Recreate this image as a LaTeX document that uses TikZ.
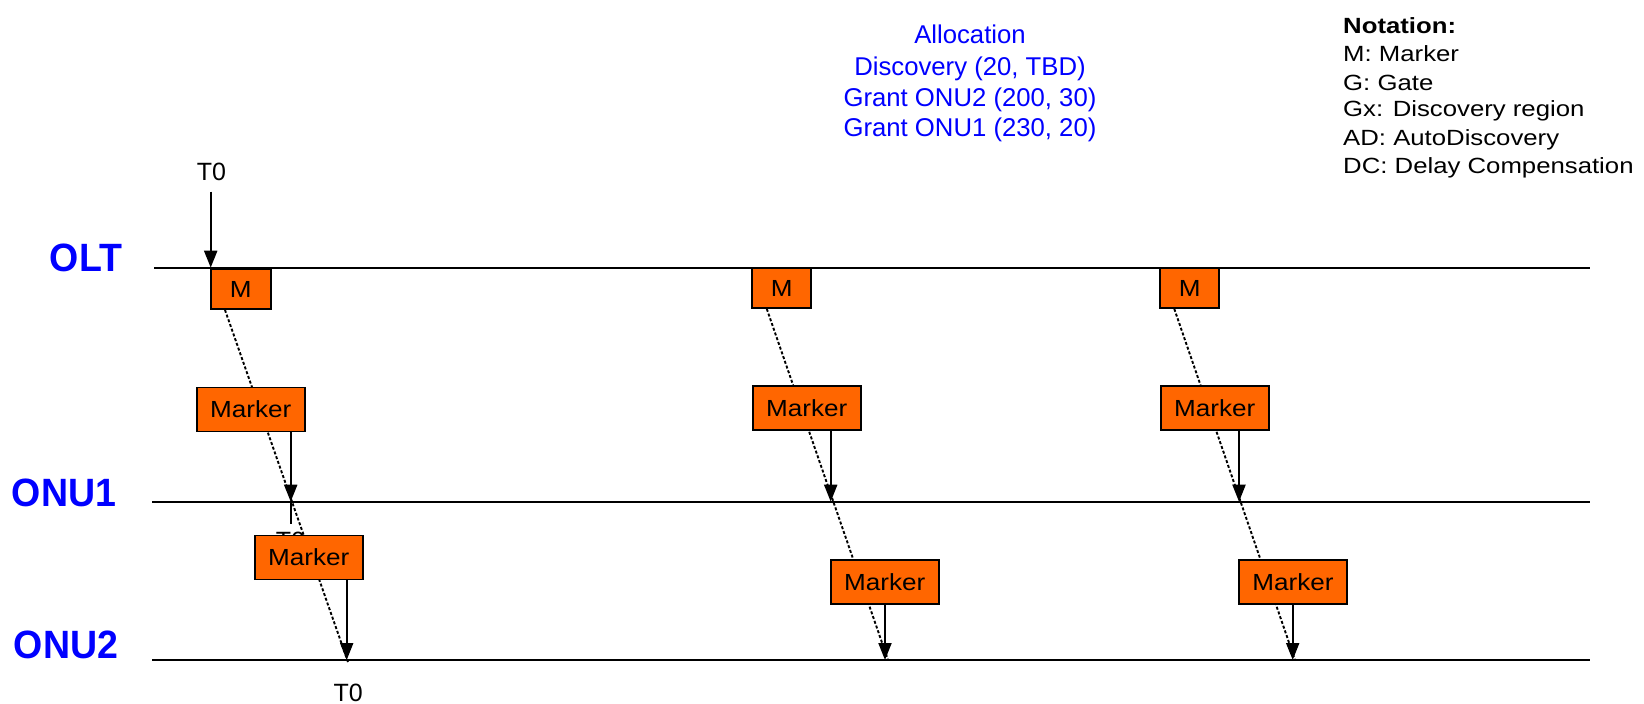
\documentclass[tikz,border=0pt]{standalone}
\usepackage{fontspec}
\setmainfont{Liberation Sans}
\newfontfamily\notefont{Liberation Sans}[FakeStretch=1.17]
\newfontfamily\boxfont{Liberation Sans}[FakeStretch=1.12]
\newfontfamily\lblfont{Liberation Sans}[FakeStretch=0.95]
\usetikzlibrary{arrows.meta}
\pgfdeclarelayer{bg}
\pgfsetlayers{bg,main}
\definecolor{boxorange}{RGB}{255,102,0}
\tikzset{
  tl/.style={line width=2pt},
  arr/.style={line width=2pt,-{Triangle[length=17pt,width=13pt]}},
  dotl/.style={line width=1.9pt,dash pattern=on 3pt off 2pt},
  mbox/.style={draw,line width=1.8pt,fill=boxorange,inner sep=0pt,minimum width=108pt,minimum height=44pt,font=\boxfont\fontsize{23.3}{28}\selectfont},
  sbox/.style={mbox,minimum width=59pt,minimum height=40pt},
  lbl/.style={text=blue,font=\lblfont\bfseries\fontsize{39.5}{44}\selectfont,anchor=base,inner sep=0pt},
  txt/.style={font=\fontsize{25}{30}\selectfont,anchor=base,inner sep=0pt},
  alloc/.style={text=blue,font=\fontsize{25.7}{30}\selectfont,anchor=base,inner sep=0pt},
  note/.style={font=\notefont\fontsize{22}{26}\selectfont,anchor=base west,inner sep=0pt}
}
\begin{document}
\begin{tikzpicture}[x=1pt,y=-1pt]
\useasboundingbox (0,0) rectangle (1644,704);
% row labels
\node[lbl] (olt) at (86,271.7) {OLT};
\node[lbl] (onu1) at (64,506.7) {ONU1};
\node[lbl] (onu2) at (66,658.3) {ONU2};
% line ends
\coordinate (oltL) at (154,267.7);  \coordinate (oltR) at (1590,267.7);
\coordinate (o1L) at (152,501.7);   \coordinate (o1R) at (1590,501.7);
\coordinate (o2L) at (152,660);     \coordinate (o2R) at (1590,660);
% boxes
\node[sbox,minimum width=60pt] (m1) at (240.7,289) {M};
\node[mbox] (k1a) at (250.8,409.5) {Marker};
\node[mbox] (k1b) at (308.7,557.5) {Marker};
\node[sbox] (m2) at (781.8,288) {M};
\node[mbox] (k2a) at (806.8,408) {Marker};
\node[mbox] (k2b) at (884.8,581.7) {Marker};
\node[sbox] (m3) at (1189.8,288) {M};
\node[mbox] (k3a) at (1214.8,408) {Marker};
\node[mbox] (k3b) at (1293,581.7) {Marker};
% dotted paths end points
\coordinate (d1) at (348,662);
\coordinate (d2) at (888,660);
\coordinate (d3) at (1295,660);
\begin{pgfonlayer}{bg}
  \draw[tl] (oltL) -- (oltR);
  \draw[tl] (o1L) -- (o1R);
  \draw[tl] (o2L) -- (o2R);
  \draw[dotl] ([xshift=-15.7pt]m1.south) -- (d1);
  \draw[dotl] ([xshift=-15pt]m2.south) -- (d2);
  \draw[dotl] ([xshift=-15.5pt]m3.south) -- (d3);
  % hidden T0 under ONU1, column 1
  \node[txt] (t0mid) at (290.5,549) {T0};
  \coordinate (a1) at (290.7,501.7);
  \coordinate (a1e) at (290.7,524);
  \draw[tl] (a1) -- (a1e);
\end{pgfonlayer}
% T0 labels
\node[txt] (t0top) at (211.5,180) {T0};
\coordinate (t0a) at (210.7,191.7);
\coordinate (t0b) at (210.7,267.7);
\draw[arr] (t0a) -- (t0b);
\node[txt] (t0bot) at (348.3,701.5) {T0};
% arrows
\coordinate (a1b) at (346.7,660);
\coordinate (a2) at (830.7,501.7);
\coordinate (a2b) at (885,660);
\coordinate (a3) at (1239,501.7);
\coordinate (a3b) at (1292.7,660);
\draw[arr] (k1a.south -| a1) -- (a1);
\draw[arr] (k1b.south -| a1b) -- (a1b);
\draw[arr] (k2a.south -| a2) -- (a2);
\draw[arr] (k2b.south -| a2b) -- (a2b);
\draw[arr] (k3a.south -| a3) -- (a3);
\draw[arr] (k3b.south -| a3b) -- (a3b);
% allocation text
\node[alloc] (al1) at (970,43.3) {Allocation};
\node[alloc] (al2) at (970,75) {Discovery (20, TBD)};
\node[alloc] (al3) at (970,106.7) {Grant ONU2 (200, 30)};
\node[alloc] (al4) at (970,136.7) {Grant ONU1 (230, 20)};
% notation
\node[note,font=\notefont\bfseries\fontsize{22}{26}\selectfont] (n0) at (1343,33.3) {Notation:};
\node[note] (n1) at (1343,61.7) {M: Marker};
\node[note] (n2) at (1343,90) {G: Gate};
\node[note] (n3) at (1343,116.7) {Gx: Discovery region};
\node[note] (n4) at (1343,145) {AD: AutoDiscovery};
\node[note] (n5) at (1343,173.3) {DC: Delay Compensation};
\end{tikzpicture}
\end{document}
